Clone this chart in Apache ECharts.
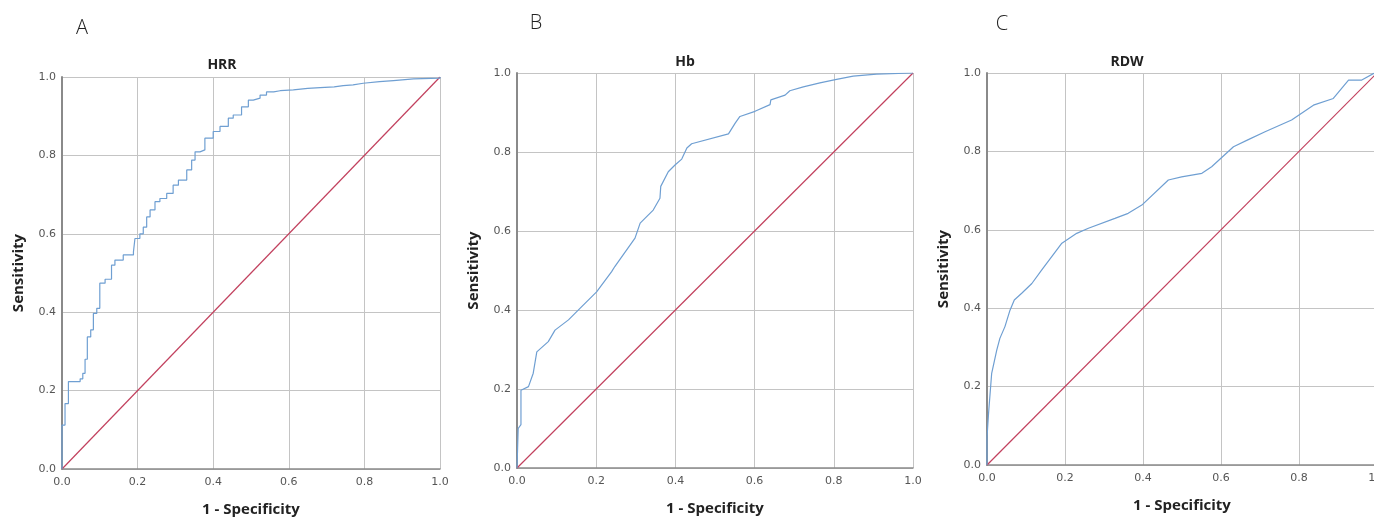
<!DOCTYPE html>
<html>
<head>
<meta charset="utf-8">
<script src="https://cdn.jsdelivr.net/npm/echarts@6/dist/echarts.min.js"></script>
<style>
  html, body { margin: 0; padding: 0; background: #fff; }
  #chart { width: 1374px; height: 517px; }
</style>
</head>
<body>
<div id="chart"></div>
<script>
// ROC curves (x = 1 - specificity, y = sensitivity)
var ticks = [0, 0.2, 0.4, 0.6, 0.8, 1.0];
var panelLetters = ['A', 'B', 'C'];
var panelTitles = ['HRR', 'Hb', 'RDW'];

var hrrX = [0, 0, 0.008, 0.017, 0.048, 0.055, 0.061, 0.067, 0.076, 0.083, 0.092, 0.100, 0.114, 0.131, 0.140, 0.162, 0.189,
    0.193, 0.206, 0.215, 0.224, 0.233, 0.246, 0.259, 0.277, 0.294, 0.308, 0.330, 0.343, 0.352, 0.365, 0.378, 0.400,
    0.418, 0.440, 0.453, 0.475, 0.493, 0.506, 0.524, 0.541, 0.560, 0.577, 0.612, 0.650, 0.683, 0.720, 0.744, 0.770,
    0.797, 0.840, 0.877, 0.930, 1.0];
var hrrY = [0, 0.112, 0.167, 0.223, 0.230, 0.244, 0.280, 0.337, 0.355, 0.397, 0.410, 0.474, 0.484, 0.520, 0.533, 0.546, 0.554,
    0.588, 0.600, 0.617, 0.643, 0.661, 0.682, 0.690, 0.703, 0.724, 0.737, 0.763, 0.788, 0.809, 0.814, 0.844, 0.861,
    0.874, 0.895, 0.903, 0.924, 0.941, 0.946, 0.954, 0.962, 0.965, 0.967, 0.971, 0.973, 0.975, 0.978, 0.980, 0.984,
    0.988, 0.991, 0.995, 0.997, 1.0];

var hbX = [0, 0.003, 0.010, 0.010, 0.029, 0.041, 0.050, 0.079, 0.096, 0.130, 0.159, 0.201, 0.239, 0.247, 0.298, 0.311,
    0.323, 0.344, 0.361, 0.363, 0.382, 0.399, 0.416, 0.429, 0.441, 0.534, 0.551, 0.563, 0.601, 0.639, 0.641, 0.677,
    0.689, 0.723, 0.765, 0.807, 0.849, 0.908, 1.0];
var hbY = [0, 0.100, 0.110, 0.197, 0.206, 0.240, 0.294, 0.320, 0.349, 0.375, 0.404, 0.446, 0.497, 0.510, 0.582, 0.620,
    0.632, 0.653, 0.683, 0.713, 0.750, 0.767, 0.782, 0.810, 0.821, 0.846, 0.873, 0.890, 0.903, 0.920, 0.932, 0.944,
    0.955, 0.965, 0.975, 0.984, 0.992, 0.997, 1.0];

var rdwX = [0, 0, 0.004, 0.012, 0.025, 0.033, 0.046, 0.059, 0.070, 0.089, 0.115, 0.140, 0.144, 0.192, 0.230, 0.260,
    0.328, 0.362, 0.397, 0.465, 0.499, 0.551, 0.576, 0.632, 0.670, 0.713, 0.781, 0.837, 0.888, 0.927, 0.961, 0.992, 1.0];
var rdwY = [0, 0.070, 0.132, 0.234, 0.293, 0.323, 0.353, 0.395, 0.421, 0.438, 0.463, 0.497, 0.502, 0.566, 0.591, 0.604,
    0.629, 0.642, 0.663, 0.727, 0.735, 0.744, 0.761, 0.812, 0.830, 0.850, 0.880, 0.918, 0.935, 0.982, 0.982, 0.999, 1.0];

var refX = [0, 1];
var refY = [0, 1];

function zip(xs, ys) {
    return xs.map(function (x, i) { return [x, ys[i]]; });
}

var grids = [
    { left: 62, top: 77, width: 378, height: 392, outerBoundsMode: 'none' },
    { left: 517, top: 73, width: 396, height: 395, outerBoundsMode: 'none' },
    { left: 987, top: 73, width: 390, height: 392, outerBoundsMode: 'none' }
];

var xAxes = [], yAxes = [], series = [];
grids.forEach(function (g, i) {
    xAxes.push({
        gridIndex: i, type: 'value', min: 0, max: 1, interval: 0.2,
        name: '1 - Specificity', nameLocation: 'middle', nameGap: 33,
        nameTextStyle: { fontFamily: 'Open Sans', fontWeight: 'bold', fontSize: 15, color: '#222' },
        axisLine: { show: true, onZero: false, lineStyle: { color: '#8a8a8a', width: 1.5 } },
        axisTick: { show: false },
        axisLabel: { fontFamily: 'DejaVu Sans', fontSize: 11, color: '#555', margin: 8,
            formatter: function (v) { return v.toFixed(1); } },
        splitLine: { show: true, lineStyle: { color: '#c4c4c4', width: 1 } }
    });
    yAxes.push({
        gridIndex: i, type: 'value', min: 0, max: 1, interval: 0.2,
        name: 'Sensitivity', nameLocation: 'middle', nameGap: 36,
        nameTextStyle: { fontFamily: 'Open Sans', fontWeight: 'bold', fontSize: 15, color: '#222' },
        axisLine: { show: true, onZero: false, lineStyle: { color: '#8a8a8a', width: 2 } },
        axisTick: { show: false },
        axisLabel: { fontFamily: 'DejaVu Sans', fontSize: 11, color: '#555', margin: 6,
            formatter: function (v) { return v.toFixed(1); } },
        splitLine: { show: true, lineStyle: { color: '#c4c4c4', width: 1 } }
    });
});

var curves = [zip(hrrX, hrrY), zip(hbX, hbY), zip(rdwX, rdwY)];
curves.forEach(function (d, i) {
    series.push({
        type: 'line', xAxisIndex: i, yAxisIndex: i, data: zip(refX, refY),
        symbol: 'none', silent: true, lineStyle: { color: '#c2415e', width: 1.2 }, z: 2
    });
    series.push({
        type: 'line', xAxisIndex: i, yAxisIndex: i, data: d,
        step: i === 0 ? 'end' : false,
        symbol: 'none', silent: true, lineStyle: { color: '#6f9fd2', width: 1.2 }, z: 3
    });
});

var letterPos = [[82, 28], [536, 23], [1002, 24]];
var titlePos = [[222, 65], [685, 62], [1127, 62]];
var graphics = [];
panelLetters.forEach(function (t, i) {
    graphics.push({ type: 'text', x: letterPos[i][0], y: letterPos[i][1],
        style: { text: t, align: 'center', verticalAlign: 'middle',
            font: '300 20px "Open Sans"', fill: '#222' } });
    graphics.push({ type: 'text', x: titlePos[i][0], y: titlePos[i][1],
        style: { text: panelTitles[i], align: 'center', verticalAlign: 'middle',
            font: 'bold 14px "Open Sans"', fill: '#222' } });
});

var chart = echarts.init(document.getElementById('chart'));
chart.setOption({
    backgroundColor: '#fff',
    animation: false,
    grid: grids,
    xAxis: xAxes,
    yAxis: yAxes,
    series: series,
    graphic: graphics
});
window.addEventListener('resize', function () { chart.resize(); });
</script>
</body>
</html>
